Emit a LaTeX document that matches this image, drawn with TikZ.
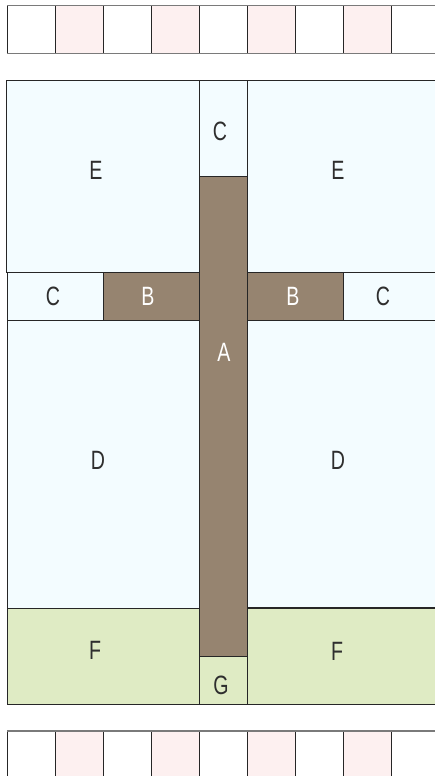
\documentclass[tikz,border=0pt]{standalone}
\usepackage{fontspec}
\setmainfont{Liberation Sans}[FakeStretch=0.74]
\definecolor{cyanbg}{HTML}{F3FCFF}
\definecolor{brownbg}{HTML}{968470}
\definecolor{greenbg}{HTML}{DFEBC4}
\definecolor{pinkbg}{HTML}{FDF0F0}
\definecolor{edge}{HTML}{262626}
\definecolor{stripline}{HTML}{7A7A7A}
\definecolor{darktext}{HTML}{2E2E2E}
\tikzset{
  region/.style={draw=edge, line width=0.9pt},
  cyanreg/.style={region, fill=cyanbg},
  brownreg/.style={region, fill=brownbg},
  greenreg/.style={region, fill=greenbg},
  pinkcell/.style={fill=pinkbg},
  cellline/.style={draw=edge, line width=0.9pt},
  stripedge/.style={draw=stripline, line width=1.3pt},
  lbl/.style={inner sep=0pt, text=darktext, font=\fontsize{26.5}{26.5}\selectfont},
  lbllight/.style={lbl, text=white},
}
\begin{document}
\begin{tikzpicture}[x=1pt, y=-1pt]
\clip (0,0) rectangle (435,776);
\fill[white] (0,0) rectangle (435,776);
% top and bottom strips
\foreach \xa in {55.3,151.3,247.3,343.3}{
  \fill[pinkcell] (\xa,5.5) rectangle ++(48,48);
  \fill[pinkcell] (\xa,731) rectangle ++(48,60);
}
\foreach \xa in {7.3,55.3,103.3,151.3,199.3,247.3,295.3,343.3,391.3}{
  \draw[cellline] (\xa,5.5) -- (\xa,53.5);
  \draw[cellline] (\xa,731) -- (\xa,790);
}
\draw[stripedge] (7,5.5) -- (440,5.5);
\draw[stripedge] (7,53.5) -- (440,53.5);
\draw[stripedge] (7,731) -- (440,731);
% main layout
\draw[cyanreg] (6,80) rectangle (199,272);
\draw[cyanreg] (247.3,80) rectangle (440,272);
\draw[cyanreg] (199,80) rectangle (247.3,176.7);
\draw[cyanreg] (7.3,272) rectangle (103.3,320);
\draw[brownreg] (103.3,272) rectangle (199,320);
\draw[brownreg] (247.3,272) rectangle (343.3,320);
\draw[cyanreg] (343.3,272) rectangle (440,320);
\draw[cyanreg] (7.3,320) rectangle (199,608);
\draw[cyanreg] (247.3,320) rectangle (440,607);
\draw[greenreg] (7.3,608) rectangle (199,704);
\draw[greenreg] (247.5,608.5) rectangle (440,704);
\draw[greenreg] (199.2,656.7) rectangle (247.5,704);
\draw[brownreg] (199,176.7) rectangle (247.3,656.7);
% labels
\node[lbl] (lC1) at (220,131) {C};
\node[lbl] (lE1) at (96,170) {E};
\node[lbl] (lE2) at (338,170) {E};
\node[lbl] (lC2) at (53,296) {C};
\node[lbllight] (lB1) at (148,296) {B};
\node[lbllight] (lB2) at (293,296) {B};
\node[lbl] (lC3) at (383,296) {C};
\node[lbllight] (lA) at (224,352) {A};
\node[lbl] (lD1) at (98,460) {D};
\node[lbl] (lD2) at (338,460) {D};
\node[lbl] (lF1) at (95,650) {F};
\node[lbl] (lF2) at (337,651) {F};
\node[lbl] (lG) at (221,685) {G};
\end{tikzpicture}
\end{document}
